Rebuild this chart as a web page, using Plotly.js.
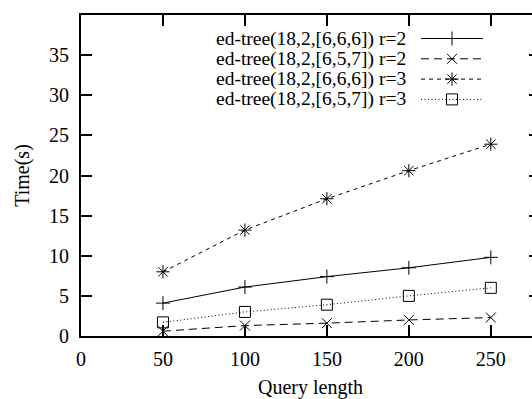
<!DOCTYPE html>
<html>
<head>
<meta charset="utf-8">
<script src="https://cdn.plot.ly/plotly-3.0.1.min.js"></script>
<style>
html,body{margin:0;padding:0;overflow:hidden;background:#fff;width:532px;height:399px;}
#chart{width:548px;height:399px;}
</style>
</head>
<body>
<div id="chart"></div>
<script>
// ---- data ----
const queryLength = [50, 100, 150, 200, 250];
const seriesNames = [
  "ed-tree(18,2,[6,6,6]) r=2",
  "ed-tree(18,2,[6,5,7]) r=2",
  "ed-tree(18,2,[6,6,6]) r=3",
  "ed-tree(18,2,[6,5,7]) r=3"
];
const t666r2 = [4.1, 6.1, 7.4, 8.5, 9.8];
const t657r2 = [0.6, 1.3, 1.6, 2.0, 2.3];
const t666r3 = [8.0, 13.2, 17.1, 20.6, 23.9];
const t657r3 = [1.7, 3.0, 3.9, 5.0, 6.0];
const xTicks = [0, 50, 100, 150, 200, 250];
const yTicks = [0, 5, 10, 15, 20, 25, 30, 35];

// ---- styles ----
const W = 548, H = 399;
const mL = 81, mR = 8, mT = 15, mB = 63;
const FAM = "Liberation Serif, Times New Roman, Times, serif";
const styles = [
  {dash: "solid", symbol: "cross-thin-open", size: 10},
  {dash: "8px,5px", symbol: "x-thin-open", size: 10},
  {dash: "4px,4px", symbol: "asterisk-open", size: 11},
  {dash: "1px,2.5px", symbol: "square-open", size: 11}
];
const seriesData = [t666r2, t657r2, t666r3, t657r3];
const ink = "#000";

const traces = seriesData.map((ys, i) => ({
  x: queryLength, y: ys, type: "scatter", mode: "lines+markers",
  name: seriesNames[i], showlegend: false, hoverinfo: "skip",
  line: {color: ink, width: 1, dash: styles[i].dash},
  marker: {symbol: styles[i].symbol, size: styles[i].size, color: ink,
           line: {color: ink, width: 1}}
}));

// manual legend (text on the left, sample on the right), on a pixel-coordinate overlay axis
const plotRight = W - mR, plotBottom = H - mB;
const legTextRight = 408, legLineL = 421, legLineR = 483, legRow0 = 38.5, legStep = 20.3;
const annotations = [];
seriesNames.forEach((nm, i) => {
  const yy = legRow0 + i * legStep;
  traces.push({
    x: [legLineL, legLineR], y: [yy, yy], xaxis: "x2", yaxis: "y2",
    type: "scatter", mode: "lines", showlegend: false, hoverinfo: "skip",
    line: {color: ink, width: 1, dash: styles[i].dash}
  });
  traces.push({
    x: [(legLineL + legLineR) / 2], y: [yy], xaxis: "x2", yaxis: "y2",
    type: "scatter", mode: "markers", showlegend: false, hoverinfo: "skip",
    marker: {symbol: styles[i].symbol, size: styles[i].size, color: ink,
             line: {color: ink, width: 1}}
  });
  annotations.push({
    x: legTextRight, y: yy, xref: "x2", yref: "y2", text: nm,
    showarrow: false, xanchor: "right", yanchor: "middle",
    font: {family: FAM, size: 19.5, color: ink}
  });
});

const axisCommon = {
  showline: true, linecolor: ink, linewidth: 2, mirror: "ticks",
  ticks: "inside", ticklen: 11, tickwidth: 2, tickcolor: ink,
  showgrid: false, zeroline: false,
  tickfont: {family: FAM, size: 20, color: ink}
};

const layout = {
  width: W, height: H,
  margin: {l: mL, r: mR, t: mT, b: mB},
  paper_bgcolor: "#fff", plot_bgcolor: "#fff",
  font: {family: FAM, size: 20, color: ink},
  showlegend: false,
  xaxis: Object.assign({}, axisCommon, {
    range: [0, 280], tickvals: xTicks, ticktext: xTicks.map(String),
    ticklabelstandoff: 4,
    title: {text: "Query length", font: {family: FAM, size: 20, color: ink}, standoff: 12}
  }),
  yaxis: Object.assign({}, axisCommon, {
    range: [0, 40], tickvals: yTicks, ticktext: yTicks.map(String),
    ticklabelstandoff: 6,
    title: {text: "Time(s)", font: {family: FAM, size: 20, color: ink}, standoff: 14}
  }),
  xaxis2: {overlaying: "x", anchor: "y2", range: [mL, plotRight], visible: false, fixedrange: true},
  yaxis2: {overlaying: "y", anchor: "x2", range: [plotBottom, mT], visible: false, fixedrange: true},
  annotations: annotations
};

Plotly.newPlot("chart", traces, layout, {staticPlot: true, displayModeBar: false});
</script>
</body>
</html>
